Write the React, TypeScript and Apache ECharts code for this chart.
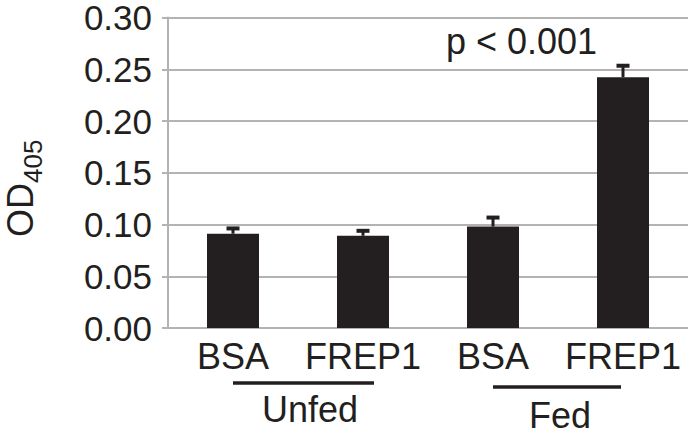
import React, { useEffect, useRef } from "react";
import * as echarts from "echarts";

const categories = ["BSA", "FREP1", "BSA", "FREP1"];
const means = [0.0911, 0.0891, 0.098, 0.2423];
const errors = [0.0051, 0.0048, 0.0087, 0.0111];
const groups = ["Unfed", "Fed"];
const pLabel = "p < 0.001";
const yTitleMain = "OD";
const yTitleSub = "405";

export default function App() {
  const ref = useRef<HTMLDivElement>(null);
  useEffect(() => {
    const chart = echarts.init(ref.current!, null, { renderer: "svg" });
    const font = "Liberation Sans, Arial, sans-serif";
    const txt = "#231f20";
    chart.setOption({
      animation: false,
      grid: { left: 168, right: 12, top: 17, bottom: 111 },
      xAxis: {
        type: "category",
        data: categories,
        axisLine: { show: false },
        axisTick: { show: false },
        axisLabel: { fontSize: 36, color: txt, fontFamily: font, margin: 10, interval: 0, hideOverlap: false },
      },
      yAxis: {
        type: "value",
        min: 0,
        max: 0.3,
        interval: 0.05,
        axisLine: { show: true, lineStyle: { color: "#b3b3b3", width: 2 } },
        axisTick: { show: true, length: 6, lineStyle: { color: "#b3b3b3", width: 2 } },
        splitLine: { show: true, lineStyle: { color: "#b3b3b3", width: 2 } },
        axisLabel: {
          fontSize: 35,
          lineHeight: 30,
          color: txt,
          fontFamily: font,
          margin: 16,
          formatter: (v: number) => v.toFixed(2),
        },
      },
      series: [
        {
          type: "bar",
          data: means,
          barWidth: 52,
          itemStyle: { color: "#231f20" },
          z: 2,
        },
        {
          type: "custom",
          z: 3,
          data: means.map((m, i) => [i, m, m + errors[i]]),
          renderItem: (params: any, api: any) => {
            const p0 = api.coord([api.value(0), api.value(1)]);
            const p1 = api.coord([api.value(0), api.value(2)]);
            const x = p0[0];
            return {
              type: "group",
              children: [
                { type: "line", shape: { x1: x, y1: p0[1], x2: x, y2: p1[1] }, style: { stroke: "#231f20", lineWidth: 3 } },
                { type: "line", shape: { x1: x - 6.5, y1: p1[1], x2: x + 6.5, y2: p1[1] }, style: { stroke: "#231f20", lineWidth: 4 } },
              ],
            };
          },
        },
      ],
      graphic: [
        { type: "text", x: 446, y: 41, style: { text: pLabel, fontSize: 36, fill: txt, fontFamily: font, textAlign: "left", textVerticalAlign: "middle" } },
        { type: "line", shape: { x1: 233, y1: 383, x2: 374, y2: 383 }, style: { stroke: "#231f20", lineWidth: 3.5 } },
        { type: "line", shape: { x1: 493, y1: 387, x2: 621, y2: 387 }, style: { stroke: "#231f20", lineWidth: 3.5 } },
        { type: "text", x: 310, y: 409, style: { text: groups[0], fontSize: 36, fill: txt, fontFamily: font, textAlign: "center", textVerticalAlign: "middle" } },
        { type: "text", x: 560, y: 415, style: { text: groups[1], fontSize: 36, fill: txt, fontFamily: font, textAlign: "center", textVerticalAlign: "middle" } },
        { type: "text", x: 20, y: 237, rotation: Math.PI / 2, style: { text: yTitleMain, fontSize: 36, fill: txt, fontFamily: font, textAlign: "left", textVerticalAlign: "middle" } },
        { type: "text", x: 32.5, y: 183, rotation: Math.PI / 2, style: { text: yTitleSub, fontSize: 26, fill: txt, fontFamily: font, textAlign: "left", textVerticalAlign: "middle" } },
      ],
    });
    return () => chart.dispose();
  }, []);
  return <div ref={ref} style={{ width: 700, height: 439, position: "absolute", left: 0, top: 0 }} />;
}
